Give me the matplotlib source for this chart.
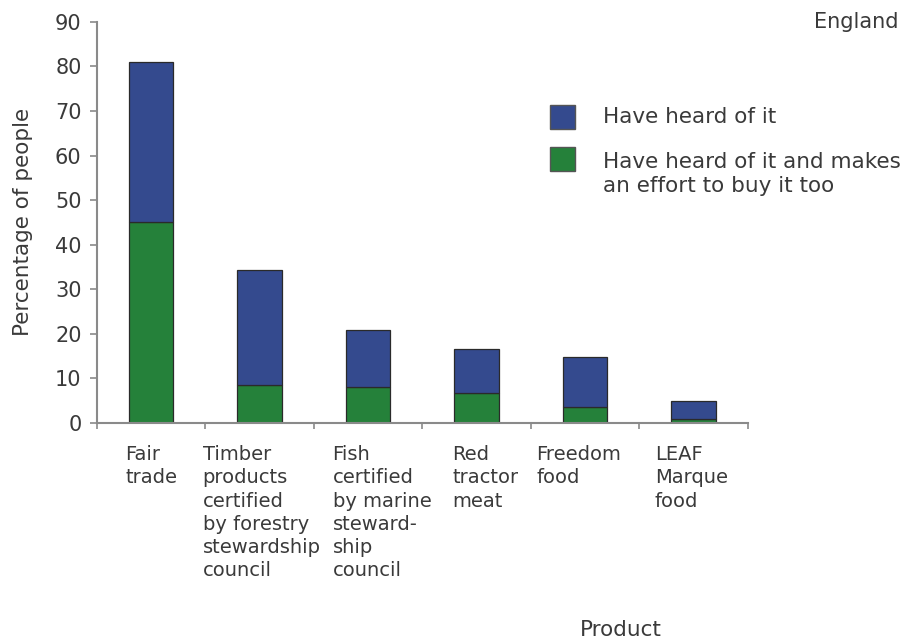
import matplotlib
matplotlib.use("Agg")
import matplotlib.pyplot as plt
import numpy as np
from matplotlib.patches import Rectangle

categories = ["Fair\ntrade",
              "Timber\nproducts\ncertified\nby forestry\nstewardship\ncouncil",
              "Fish\ncertified\nby marine\nsteward-\nship\ncouncil",
              "Red\ntractor\nmeat",
              "Freedom\nfood",
              "LEAF\nMarque\nfood"]
heard_total = [81, 34.3, 20.8, 16.6, 14.8, 4.9]
buy_too = [45, 8.5, 8.1, 6.7, 3.7, 1.0]
yticks = list(range(0, 91, 10))
series_names = ["Have heard of it",
                "Have heard of it and makes\nan effort to buy it too"]

BLUE = "#344a8e"
GREEN = "#25813a"
GREY = "#8a8a8a"
TXT = "#3a3a3a"
W, H = 913, 641


def main():
    plt.rcParams["font.family"] = "DejaVu Sans"
    fig = plt.figure(figsize=(W / 100, H / 100), dpi=100)
    ax = fig.add_axes([0.106, 0.34, 0.713, 0.626])

    x = np.arange(len(categories))
    heard_only = np.array(heard_total) - np.array(buy_too)
    ax.bar(x, buy_too, width=0.41, color=GREEN, edgecolor="#2a2a2a", lw=0.9)
    ax.bar(x, heard_only, width=0.41, bottom=buy_too, color=BLUE,
           edgecolor="#2a2a2a", lw=0.9)

    ax.set_xlim(-0.5, len(categories) - 0.5)
    ax.set_ylim(0, 90)
    ax.set_yticks(yticks)
    ax.tick_params(axis="y", labelsize=15, colors=GREY, labelcolor=TXT,
                   length=5, width=1.2, pad=6)

    # tick marks sit between the categories
    ax.set_xticks(np.arange(len(categories) + 1) - 0.5)
    ax.set_xticklabels([])
    ax.tick_params(axis="x", colors=GREY, length=4, width=1.2)

    # category labels are left-aligned blocks, nudged a little like the original
    nudge = [0, 1.5, 10, 6.5, -4.3, -1.5]
    for xi, name, dx in zip(x, categories, nudge):
        ax.annotate(name, xy=(xi, 0), xycoords=("data", "axes fraction"),
                    xytext=(dx, -16), textcoords="offset points",
                    ha="center", va="top", multialignment="left",
                    linespacing=1.28, fontsize=14, color=TXT,
                    annotation_clip=False)

    for s in ["top", "right"]:
        ax.spines[s].set_visible(False)
    for s in ["left", "bottom"]:
        ax.spines[s].set_color(GREY)
        ax.spines[s].set_linewidth(1.5)

    ax.set_ylabel("Percentage of people", fontsize=15.5, color=TXT, labelpad=16)
    fig.text(0.680, 0.017, "Product", fontsize=15.5, color=TXT,
             ha="center", va="center")
    fig.text(0.984, 0.966, "England", fontsize=15, color=TXT,
             ha="right", va="center")

    # legend drawn by hand: square beside the first line of each label
    for (top, colour, text_y), name in zip([(105, BLUE, 117), (147, GREEN, 174.5)],
                                           series_names):
        fig.add_artist(Rectangle((550 / W, 1 - (top + 24) / H), 25 / W, 24 / H,
                                 transform=fig.transFigure, facecolor=colour,
                                 edgecolor="#555555", lw=1))
        fig.text(603 / W, 1 - text_y / H, name, fontsize=15.5, color=TXT,
                 ha="left", va="center", linespacing=1.25)

    fig.savefig("out.png", dpi=100)


if __name__ == "__main__":
    main()
